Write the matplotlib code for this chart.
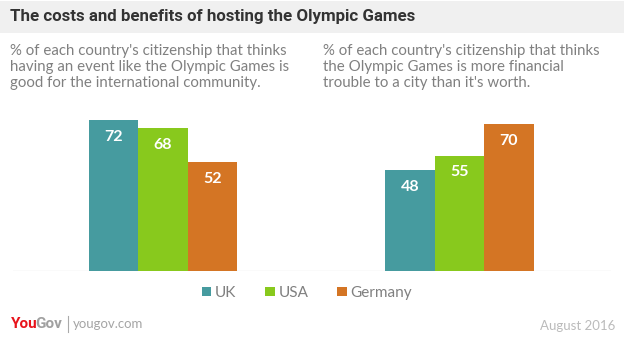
import matplotlib
matplotlib.use('Agg')
import matplotlib.pyplot as plt
from matplotlib.patches import Rectangle
import numpy as np

W, H = 624, 358

countries = ['UK', 'USA', 'Germany']
colors = ['#469b9f', '#88c91d', '#d47524']
groups = ['good for community', 'financial trouble']
good_for_community = [72, 68, 52]
financial_trouble = [48, 55, 70]

title = 'The costs and benefits of hosting the Olympic Games'
sub_left = ("% of each country's citizenship that thinks\n"
            "having an event like the Olympic Games is\n"
            "good for the international community.")
sub_right = ("% of each country's citizenship that thinks\n"
             "the Olympic Games is more financial\n"
             "trouble to a city than it's worth.")
date_text = 'August 2016'


def fx(px):
    return px / W


def fy(py):
    return 1 - py / H


fig = plt.figure(figsize=(W / 100, H / 100), dpi=100)
fig.patch.set_facecolor('white')

# title band
fig.patches.append(Rectangle((0, fy(33)), 1, (33 - 1) / H, transform=fig.transFigure,
                             facecolor='#f0f0f0', edgecolor='none', zorder=0))
fig.text(fx(10), fy(17), title, fontsize=12.2, fontweight='bold', family='Roboto',
         color='#333333', va='center', ha='left')

fig.text(fx(10), fy(44), sub_left, fontsize=10.8, family='Lato',
         color='#808080', va='top', ha='left', linespacing=1.17)
fig.text(fx(323), fy(44), sub_right, fontsize=10.8, family='Lato',
         color='#808080', va='top', ha='left', linespacing=1.17)

# ── bars ─────────────────────────────────────────────────────────────────────
px_per_val = 2.097
ymax = 80
ax_left, ax_right, base = 13, 611, 271
ax_h = ymax * px_per_val
ax = fig.add_axes([fx(ax_left), fy(base), (ax_right - ax_left) / W, ax_h / H])

centers = np.arange(len(groups))
bw = 49.5 / 296.5
series = np.array([good_for_community, financial_trouble])
for i, (c, col) in enumerate(zip(countries, colors)):
    xs = centers + (i - 1) * bw
    vals = series[:, i]
    ax.bar(xs, vals, width=bw, color=col, zorder=2, label=c, linewidth=0)
    for x, v in zip(xs, vals):
        ax.text(x, v - 8, f'{v}', ha='center', va='center', color='white',
                fontsize=11.5, fontweight='bold', family='Lato', zorder=3)

ax.axhline(-0.5, color='#d9d9d9', lw=1.6, zorder=1)
ax.set_xlim((ax_left - 163) / 296.5, (ax_right - 163) / 296.5)
ax.set_ylim(0, ymax)
ax.set_axis_off()

# legend
handles, labels = ax.get_legend_handles_labels()
fig.legend(handles, labels, loc='center', bbox_to_anchor=(fx(307), fy(293)),
           ncol=3, frameon=False, handlelength=0.6, handleheight=0.6,
           handletextpad=0.25, columnspacing=1.9,
           prop={'family': 'Lato', 'size': 11}, labelcolor='#808080')

# footer
you = fig.text(fx(11), fy(324), 'You', fontsize=11, fontweight='bold', family='Roboto',
               color='#e8141c', va='center', ha='left')
fig.canvas.draw()
bb = you.get_window_extent()
fig.text((bb.x1 - 2) / W, fy(324), 'Gov', fontsize=11, fontweight='bold', family='Roboto',
         color='#a0a0a0', va='center', ha='left')
fig.lines.append(plt.Line2D([fx(68), fx(68)], [fy(316), fy(332)], transform=fig.transFigure,
                            color='#aaaaaa', lw=0.8))
fig.text(fx(73), fy(324), 'yougov.com', fontsize=9.5, family='Lato',
         color='#a5a5a5', va='center', ha='left')
fig.text(fx(615), fy(326), date_text, fontsize=9.5, family='Lato',
         color='#bbbbbb', va='center', ha='right')

fig.savefig('out.png', dpi=100)
